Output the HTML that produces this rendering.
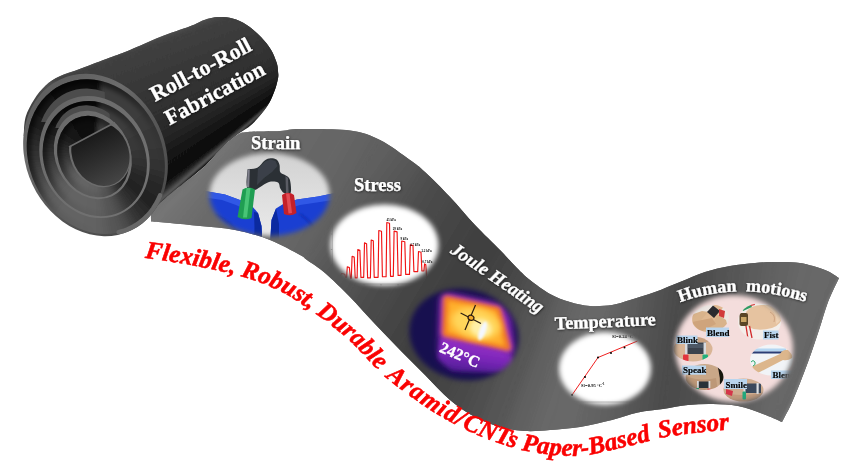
<!DOCTYPE html>
<html><head><meta charset="utf-8">
<style>
html,body{margin:0;padding:0;background:#fff;}
body{width:850px;height:472px;overflow:hidden;position:relative;font-family:"Liberation Serif",serif;}
svg{position:absolute;left:0;top:0;display:block;}
text{font-family:"Liberation Serif",serif;}
</style></head><body>
<svg width="850" height="472" viewBox="0 0 850 472">
<defs>
<linearGradient id="ribG" gradientUnits="userSpaceOnUse" x1="150" y1="0" x2="850" y2="0">
<stop offset="0" stop-color="#747474"/>
<stop offset="0.08" stop-color="#6e6e6e"/>
<stop offset="0.14" stop-color="#6a6a6a"/>
<stop offset="0.28" stop-color="#676767"/>
<stop offset="0.36" stop-color="#585858"/>
<stop offset="0.43" stop-color="#434343"/>
<stop offset="0.49" stop-color="#414141"/>
<stop offset="0.55" stop-color="#4c4c4c"/>
<stop offset="0.61" stop-color="#5c5c5c"/>
<stop offset="0.68" stop-color="#606060"/>
<stop offset="0.74" stop-color="#4c4c4c"/>
<stop offset="0.8" stop-color="#525252"/>
<stop offset="0.9" stop-color="#5e5e5e"/>
<stop offset="1" stop-color="#525252"/>
</linearGradient>
<filter id="feather" x="-20%" y="-20%" width="140%" height="140%"><feGaussianBlur stdDeviation="2.6"/></filter>
<filter id="blur05"><feGaussianBlur stdDeviation="0.5"/></filter>
<filter id="blur1"><feGaussianBlur stdDeviation="1"/></filter>
<filter id="blur2" x="-20%" y="-20%" width="140%" height="140%"><feGaussianBlur stdDeviation="2"/></filter>
<filter id="blur4" x="-20%" y="-20%" width="140%" height="140%"><feGaussianBlur stdDeviation="4"/></filter>
<filter id="blur3" x="-20%" y="-20%" width="140%" height="140%"><feGaussianBlur stdDeviation="3"/></filter>
<filter id="blur6" x="-30%" y="-30%" width="160%" height="160%"><feGaussianBlur stdDeviation="6"/></filter>
<filter id="tsh" x="-10%" y="-30%" width="120%" height="160%"><feDropShadow dx="0.5" dy="0.7" stdDeviation="0.8" flood-color="#000" flood-opacity="0.7"/></filter>
<mask id="mStrain"><ellipse cx="269.5" cy="194.5" rx="60" ry="41.5" fill="#fff" filter="url(#feather)"/></mask>
<mask id="mStress"><ellipse cx="384.5" cy="245" rx="54" ry="40.5" fill="#fff" filter="url(#feather)"/></mask>
<mask id="mJoule"><ellipse cx="464" cy="334.5" rx="55" ry="45.5" fill="#fff" transform="rotate(12 464 334.5)" filter="url(#feather)"/></mask>
<mask id="mTemp"><ellipse cx="605" cy="368.5" rx="46" ry="36.5" fill="#fff" filter="url(#feather)"/></mask>
<mask id="mHuman"><ellipse cx="734" cy="348.5" rx="59" ry="53.5" fill="#fff" filter="url(#feather)"/></mask>
<linearGradient id="bodyG" gradientUnits="userSpaceOnUse" x1="140" y1="40" x2="200" y2="170">
<stop offset="0" stop-color="#525252"/>
<stop offset="0.07" stop-color="#464646"/>
<stop offset="0.2" stop-color="#3a3a3a"/>
<stop offset="0.42" stop-color="#2e2e2e"/>
<stop offset="0.62" stop-color="#1e1e1e"/>
<stop offset="0.8" stop-color="#0e0e0e"/>
<stop offset="1" stop-color="#080808"/>
</linearGradient>
<linearGradient id="gapG" gradientUnits="userSpaceOnUse" x1="40" y1="90" x2="140" y2="210">
<stop offset="0.1" stop-color="#1c1c1c"/>
<stop offset="0.2" stop-color="#2e2e2e"/>
<stop offset="0.45" stop-color="#3a3a3a"/>
<stop offset="0.7" stop-color="#4c4c4c"/>
<stop offset="0.82" stop-color="#404040"/>
<stop offset="1" stop-color="#5a5a5a"/>
</linearGradient>
<linearGradient id="edgeG" gradientUnits="userSpaceOnUse" x1="40" y1="90" x2="140" y2="210">
<stop offset="0" stop-color="#5e5e5e"/>
<stop offset="0.3" stop-color="#6c6c6c"/>
<stop offset="1" stop-color="#727272"/>
</linearGradient>
<linearGradient id="edgeG1" gradientUnits="userSpaceOnUse" x1="40" y1="90" x2="140" y2="210">
<stop offset="0" stop-color="#5e5e5e"/>
<stop offset="0.3" stop-color="#6c6c6c"/>
<stop offset="0.6" stop-color="#585858"/>
<stop offset="1" stop-color="#4c4c4c"/>
</linearGradient>
<linearGradient id="purpG" gradientUnits="userSpaceOnUse" x1="470" y1="340" x2="465" y2="374">
<stop offset="0" stop-color="#9a30c8"/>
<stop offset="0.5" stop-color="#7a26b8"/>
<stop offset="1" stop-color="#4a1c90"/>
</linearGradient>
<linearGradient id="lightG" gradientUnits="userSpaceOnUse" x1="100" y1="80" x2="160" y2="180">
<stop offset="0" stop-color="#444"/>
<stop offset="0.6" stop-color="#363636"/>
<stop offset="1" stop-color="#3a3a3a"/>
</linearGradient>
<linearGradient id="dG" gradientUnits="userSpaceOnUse" x1="85" y1="130" x2="115" y2="190">
<stop offset="0" stop-color="#141414"/>
<stop offset="0.5" stop-color="#2e2e2e"/>
<stop offset="1" stop-color="#4a4a4a"/>
</linearGradient>
<clipPath id="tong0"><polygon points="106,72 200,60 200,170 95,155 82,96"/></clipPath>
<clipPath id="tong1"><polygon points="106,92 200,80 200,170 95,155 86,110"/></clipPath>
<clipPath id="band1"><polygon points="20,40 103,40 105,100 95,150 48,122 20,122"/></clipPath>
<clipPath id="band2"><polygon points="20,40 104,40 110,120 95,150 62,128 20,128"/></clipPath>
<clipPath id="gapc0"><path d="M156.16,128.45 A66.6 79.5 -25 1 0 35.44,184.75 A66.6 79.5 -25 1 0 156.16,128.45 Z"/></clipPath>
<clipPath id="gapc1"><path d="M140.57,137.26 A50.5 59.1 -25 1 0 49.03,179.94 A50.5 59.1 -25 1 0 140.57,137.26 Z"/></clipPath>
<clipPath id="gapc2"><path d="M124.37,142.02 A34.5 42 -25 1 0 61.83,171.18 A34.5 42 -25 1 0 124.37,142.02 Z"/></clipPath>
<g id="pie" filter="url(#blur2)">
<path d="M95.5,155L195.5,154L195,164.8Z" fill="#353535"/>
<path d="M95.5,155L195.2,162.7L193.8,173.4Z" fill="#323232"/>
<path d="M95.5,155L194.2,171.3L191.8,181.9Z" fill="#303030"/>
<path d="M95.5,155L192.4,179.9L189.1,190.2Z" fill="#2d2d2d"/>
<path d="M95.5,155L189.8,188.2L185.7,198.2Z" fill="#2b2b2b"/>
<path d="M95.5,155L186.6,196.3L181.6,205.9Z" fill="#282828"/>
<path d="M95.5,155L182.6,204.1L176.8,213.2Z" fill="#262626"/>
<path d="M95.5,155L178,211.5L171.4,220.1Z" fill="#232323"/>
<path d="M95.5,155L172.8,218.5L165.5,226.4Z" fill="#242424"/>
<path d="M95.5,155L166.9,225L159,232.3Z" fill="#292929"/>
<path d="M95.5,155L160.6,230.9L152,237.5Z" fill="#2e2e2e"/>
<path d="M95.5,155L153.7,236.3L144.6,242.1Z" fill="#353535"/>
<path d="M95.5,155L146.4,241.1L136.8,246.1Z" fill="#404040"/>
<path d="M95.5,155L138.7,245.2L128.7,249.3Z" fill="#4b4b4b"/>
<path d="M95.5,155L130.7,248.6L120.4,251.9Z" fill="#525252"/>
<path d="M95.5,155L122.4,251.3L111.8,253.7Z" fill="#575757"/>
<path d="M95.5,155L113.9,253.3L103.2,254.7Z" fill="#5b5b5b"/>
<path d="M95.5,155L105.3,254.5L94.5,255Z" fill="#606060"/>
<path d="M95.5,155L96.5,255L85.7,254.5Z" fill="#626262"/>
<path d="M95.5,155L87.8,254.7L77.1,253.3Z" fill="#626262"/>
<path d="M95.5,155L79.2,253.7L68.6,251.3Z" fill="#636363"/>
<path d="M95.5,155L70.6,251.9L60.3,248.6Z" fill="#636363"/>
<path d="M95.5,155L62.3,249.3L52.3,245.2Z" fill="#646464"/>
<path d="M95.5,155L54.2,246.1L44.6,241.1Z" fill="#646464"/>
<path d="M95.5,155L46.4,242.1L37.3,236.3Z" fill="#636363"/>
<path d="M95.5,155L39,237.5L30.4,230.9Z" fill="#616161"/>
<path d="M95.5,155L32,232.3L24.1,225Z" fill="#5f5f5f"/>
<path d="M95.5,155L25.5,226.4L18.2,218.5Z" fill="#5d5d5d"/>
<path d="M95.5,155L19.6,220.1L13,211.5Z" fill="#5a5a5a"/>
<path d="M95.5,155L14.2,213.2L8.4,204.1Z" fill="#545454"/>
<path d="M95.5,155L9.4,205.9L4.4,196.3Z" fill="#505050"/>
<path d="M95.5,155L5.3,198.2L1.2,188.2Z" fill="#4a4a4a"/>
<path d="M95.5,155L1.9,190.2L-1.4,179.9Z" fill="#454545"/>
<path d="M95.5,155L-0.8,181.9L-3.2,171.3Z" fill="#404040"/>
<path d="M95.5,155L-2.8,173.4L-4.2,162.7Z" fill="#3a3a3a"/>
<path d="M95.5,155L-4,164.8L-4.5,154Z" fill="#353535"/>
<path d="M95.5,155L-4.5,156L-4,145.2Z" fill="#303030"/>
<path d="M95.5,155L-4.2,147.3L-2.8,136.6Z" fill="#2d2d2d"/>
<path d="M95.5,155L-3.2,138.7L-0.8,128.1Z" fill="#292929"/>
<path d="M95.5,155L-1.4,130.1L1.9,119.8Z" fill="#262626"/>
<path d="M95.5,155L1.2,121.8L5.3,111.8Z" fill="#222222"/>
<path d="M95.5,155L4.4,113.7L9.4,104.1Z" fill="#1f1f1f"/>
<path d="M95.5,155L8.4,105.9L14.2,96.8Z" fill="#1c1c1c"/>
<path d="M95.5,155L13,98.5L19.6,89.9Z" fill="#191919"/>
<path d="M95.5,155L18.2,91.5L25.5,83.6Z" fill="#161616"/>
<path d="M95.5,155L24.1,85L32,77.7Z" fill="#131313"/>
<path d="M95.5,155L30.4,79.1L39,72.5Z" fill="#121212"/>
<path d="M95.5,155L37.3,73.7L46.4,67.9Z" fill="#111111"/>
<path d="M95.5,155L44.6,68.9L54.2,63.9Z" fill="#101010"/>
<path d="M95.5,155L52.3,64.8L62.3,60.7Z" fill="#0f0f0f"/>
<path d="M95.5,155L60.3,61.4L70.6,58.1Z" fill="#0e0e0e"/>
<path d="M95.5,155L68.6,58.7L79.2,56.3Z" fill="#0d0d0d"/>
<path d="M95.5,155L77.1,56.7L87.8,55.3Z" fill="#0d0d0d"/>
<path d="M95.5,155L85.7,55.5L96.5,55Z" fill="#0c0c0c"/>
<path d="M95.5,155L94.5,55L105.3,55.5Z" fill="#0c0c0c"/>
<path d="M95.5,155L103.2,55.3L113.9,56.7Z" fill="#3c3c3c"/>
<path d="M95.5,155L111.8,56.3L122.4,58.7Z" fill="#3c3c3c"/>
<path d="M95.5,155L120.4,58.1L130.7,61.4Z" fill="#3d3d3d"/>
<path d="M95.5,155L128.7,60.7L138.7,64.8Z" fill="#3d3d3d"/>
<path d="M95.5,155L136.8,63.9L146.4,68.9Z" fill="#3e3e3e"/>
<path d="M95.5,155L144.6,67.9L153.7,73.7Z" fill="#3e3e3e"/>
<path d="M95.5,155L152,72.5L160.6,79.1Z" fill="#3d3d3d"/>
<path d="M95.5,155L159,77.7L166.9,85Z" fill="#3c3c3c"/>
<path d="M95.5,155L165.5,83.6L172.8,91.5Z" fill="#3c3c3c"/>
<path d="M95.5,155L171.4,89.9L178,98.5Z" fill="#3b3b3b"/>
<path d="M95.5,155L176.8,96.8L182.6,105.9Z" fill="#3a3a3a"/>
<path d="M95.5,155L181.6,104.1L186.6,113.7Z" fill="#3a3a3a"/>
<path d="M95.5,155L185.7,111.8L189.8,121.8Z" fill="#393939"/>
<path d="M95.5,155L189.1,119.8L192.4,130.1Z" fill="#383838"/>
<path d="M95.5,155L191.8,128.1L194.2,138.7Z" fill="#383838"/>
<path d="M95.5,155L193.8,136.6L195.2,147.3Z" fill="#373737"/>
<path d="M95.5,155L195,145.2L195.5,156Z" fill="#363636"/>
</g>
<linearGradient id="shadowG" gradientUnits="userSpaceOnUse" x1="45" y1="95" x2="135" y2="200">
<stop offset="0.1" stop-color="#000" stop-opacity="0.6"/>
<stop offset="0.4" stop-color="#000" stop-opacity="0.4"/>
<stop offset="0.7" stop-color="#000" stop-opacity="0.08"/>
<stop offset="1" stop-color="#000" stop-opacity="0"/>
</linearGradient>
<clipPath id="dclip"><polygon points="69,147 115,122.5 200,122 200,260 69,260"/></clipPath>
<radialGradient id="thermG" cx="0.5" cy="0.5" r="0.5">
<stop offset="0" stop-color="#fff2a0"/>
<stop offset="0.35" stop-color="#ffc020"/>
<stop offset="0.6" stop-color="#f08a20"/>
<stop offset="0.8" stop-color="#c040c0"/>
<stop offset="1" stop-color="#7020b0"/>
</radialGradient>
<clipPath id="bodyClip"><path d="M23.7,136 C24,132.8 23.9,123 25.6,117 C27.3,111 30.7,105 34,99.7 C37.3,94.5 41.2,89.4 45.5,85.5 C49.8,81.6 53.8,79.1 59.7,76.3 C65.6,73.5 72.7,71.6 81,68.5 C89.3,65.4 101.2,60.9 109.4,57.8 C117.6,54.7 121.6,53.5 130,50 C138.4,46.5 150,41 160,37 C170,33 182.6,29.2 190,26.3 C197.4,23.4 199.5,21.4 204.2,19.9 C208.9,18.3 213.7,17.2 218.4,17 C223.1,16.8 227.9,17.2 232.6,18.5 C237.3,19.8 242.1,21.8 246.8,24.9 C251.5,28 257,32.8 261,36.9 C265,41 268.4,45.4 271,49.7 C273.6,54 275.4,59 276.6,62.5 C277.8,66 277.8,68.3 278,71 C278.2,73.7 278.7,74.8 278,78.4 C277.3,82 275.8,87.9 273.9,92.6 C272,97.3 270.4,101.6 266.8,106.8 C263.2,112 257.3,119.3 252.3,124 C247.3,128.7 241.7,131 236.7,134.8 C231.7,138.6 228.2,141.4 222.5,146.9 C216.8,152.4 211.4,160.1 202.6,168 C193.8,175.9 177.9,187.6 169.6,194.5 C161.3,201.4 155.8,206.9 153,209.4 L95,155 Z"/></clipPath>
<linearGradient id="strBg" x1="0" y1="0" x2="0" y2="1"><stop offset="0" stop-color="#cfcfcf"/><stop offset="0.5" stop-color="#dedede"/><stop offset="1" stop-color="#ececec"/></linearGradient>
<clipPath id="cpFinger"><ellipse cx="710.5" cy="318.5" rx="18.5" ry="13.5" transform="rotate(-8 710.5 318.5)"/></clipPath>
<clipPath id="cpFist"><ellipse cx="759.5" cy="321.5" rx="21.5" ry="18"/></clipPath>
<clipPath id="cpBlink"><ellipse cx="693" cy="349" rx="19.5" ry="12.5"/></clipPath>
<clipPath id="cpArm"><ellipse cx="771.5" cy="360" rx="21.5" ry="15.5"/></clipPath>
<clipPath id="cpSpeak"><ellipse cx="704.5" cy="377" rx="19" ry="13"/></clipPath>
<clipPath id="cpSmile"><ellipse cx="743.5" cy="390" rx="20" ry="11.5"/></clipPath>
<clipPath id="ribClip"><path d="M151,221.5 C151.3,219.4 149.8,213.6 153,209 C156.2,204.4 161.7,200.8 170,194 C178.3,187.2 194.2,175.8 203,168 C211.8,160.2 216.8,152.5 222.5,147 C228.2,141.5 232.8,137.5 237,135 C241.2,132.5 240.8,132.7 248,132 C255.2,131.3 271.3,131.5 280,131 C288.7,130.5 288.3,129.1 300,129 C311.7,128.9 336.7,128.7 350,130.5 C363.3,132.3 370,135.1 380,140 C390,144.9 402.5,154.7 410,160 C417.5,165.3 418.3,165.8 425,172 C431.7,178.2 441.7,188.2 450,197 C458.3,205.8 466.7,216.2 475,225 C483.3,233.8 493,242.8 500,250 C507,257.2 512,263 517,268 C522,273 524.5,275.7 530,280 C535.5,284.3 543.3,290.3 550,294 C556.7,297.7 563.3,300 570,302 C576.7,304 583,305.5 590,306 C597,306.5 605.3,306 612,305 C618.7,304 622.8,302.2 630,300 C637.2,297.8 646.7,295 655,292 C663.3,289 671.7,285.3 680,282 C688.3,278.7 696.7,274.7 705,272 C713.3,269.3 721.7,267.5 730,266 C738.3,264.5 747.5,263.7 755,263 C762.5,262.3 767.5,262 775,262 C782.5,262 791.7,261.7 800,263 C808.3,264.3 818.5,267.5 825,270 C831.5,272.5 836.7,276.7 839,278 C837.2,282 831.3,293.3 828,302 C824.7,310.7 822.3,320 819,330 C815.7,340 812.3,350.3 808,362 C803.7,373.7 797.3,390 793,400 C788.7,410 783.8,418.3 782,422 C778.8,420.7 770.3,416.7 763,414 C755.7,411.3 746.3,407.7 738,406 C729.7,404.3 721.3,404.2 713,404 C704.7,403.8 696.3,404.2 688,405 C679.7,405.8 671.3,407.8 663,409 C654.7,410.2 646.5,410.7 638,412.5 C629.5,414.3 621.7,417.6 612,420 C602.3,422.4 590.3,425.3 580,427 C569.7,428.7 559.2,429.3 550,430 C540.8,430.7 533.3,431.5 525,431 C516.7,430.5 508.3,429.3 500,427 C491.7,424.7 483.3,421.5 475,417 C466.7,412.5 458.3,407 450,400 C441.7,393 433.3,383.3 425,375 C416.7,366.7 408.3,358.5 400,350 C391.7,341.5 383.3,332.8 375,324 C366.7,315.2 358.3,305.5 350,297 C341.7,288.5 332.2,279.2 325,273 C317.8,266.8 311.2,263 307,260 C302.8,257 306.2,258.3 300,255 C293.8,251.7 280.8,244.2 270,240 C259.2,235.8 246.7,232.3 235,230 C223.3,227.7 210.8,227.2 200,226 C189.2,224.8 178.2,223.8 170,223 C161.8,222.2 154.2,221.8 151,221.5 Z"/></clipPath>
</defs>

<!-- ribbon -->
<path d="M151,221.5 C151.3,219.4 149.8,213.6 153,209 C156.2,204.4 161.7,200.8 170,194 C178.3,187.2 194.2,175.8 203,168 C211.8,160.2 216.8,152.5 222.5,147 C228.2,141.5 232.8,137.5 237,135 C241.2,132.5 240.8,132.7 248,132 C255.2,131.3 271.3,131.5 280,131 C288.7,130.5 288.3,129.1 300,129 C311.7,128.9 336.7,128.7 350,130.5 C363.3,132.3 370,135.1 380,140 C390,144.9 402.5,154.7 410,160 C417.5,165.3 418.3,165.8 425,172 C431.7,178.2 441.7,188.2 450,197 C458.3,205.8 466.7,216.2 475,225 C483.3,233.8 493,242.8 500,250 C507,257.2 512,263 517,268 C522,273 524.5,275.7 530,280 C535.5,284.3 543.3,290.3 550,294 C556.7,297.7 563.3,300 570,302 C576.7,304 583,305.5 590,306 C597,306.5 605.3,306 612,305 C618.7,304 622.8,302.2 630,300 C637.2,297.8 646.7,295 655,292 C663.3,289 671.7,285.3 680,282 C688.3,278.7 696.7,274.7 705,272 C713.3,269.3 721.7,267.5 730,266 C738.3,264.5 747.5,263.7 755,263 C762.5,262.3 767.5,262 775,262 C782.5,262 791.7,261.7 800,263 C808.3,264.3 818.5,267.5 825,270 C831.5,272.5 836.7,276.7 839,278 C837.2,282 831.3,293.3 828,302 C824.7,310.7 822.3,320 819,330 C815.7,340 812.3,350.3 808,362 C803.7,373.7 797.3,390 793,400 C788.7,410 783.8,418.3 782,422 C778.8,420.7 770.3,416.7 763,414 C755.7,411.3 746.3,407.7 738,406 C729.7,404.3 721.3,404.2 713,404 C704.7,403.8 696.3,404.2 688,405 C679.7,405.8 671.3,407.8 663,409 C654.7,410.2 646.5,410.7 638,412.5 C629.5,414.3 621.7,417.6 612,420 C602.3,422.4 590.3,425.3 580,427 C569.7,428.7 559.2,429.3 550,430 C540.8,430.7 533.3,431.5 525,431 C516.7,430.5 508.3,429.3 500,427 C491.7,424.7 483.3,421.5 475,417 C466.7,412.5 458.3,407 450,400 C441.7,393 433.3,383.3 425,375 C416.7,366.7 408.3,358.5 400,350 C391.7,341.5 383.3,332.8 375,324 C366.7,315.2 358.3,305.5 350,297 C341.7,288.5 332.2,279.2 325,273 C317.8,266.8 311.2,263 307,260 C302.8,257 306.2,258.3 300,255 C293.8,251.7 280.8,244.2 270,240 C259.2,235.8 246.7,232.3 235,230 C223.3,227.7 210.8,227.2 200,226 C189.2,224.8 178.2,223.8 170,223 C161.8,222.2 154.2,221.8 151,221.5 Z" fill="url(#ribG)"/>
<g clip-path="url(#ribClip)"><g filter="url(#blur2)">
<path d="M204.1,165.6L208.8,160.7L136.7,238.3L135.9,239.4Z" fill="#7c7c7c"/>
<path d="M207.3,162.3L213.7,155.7L137.4,237.1L136.5,238.6Z" fill="#7b7b7b"/>
<path d="M211.9,157.5L219,150.3L138.1,235.8L137.1,237.5Z" fill="#7b7b7b"/>
<path d="M217.1,152.1L223.9,145.3L139,234.3L137.9,236.3Z" fill="#7b7b7b"/>
<path d="M222.3,146.9L227.9,141.5L139.9,232.8L138.7,234.8Z" fill="#7a7a7a"/>
<path d="M226.7,142.7L231.3,138.4L141,231.2L139.6,233.3Z" fill="#7a7a7a"/>
<path d="M230.1,139.4L234.2,135.8L142.1,229.8L140.6,231.8Z" fill="#797979"/>
<path d="M233.2,136.7L237,133.6L143.2,228.4L141.7,230.3Z" fill="#797979"/>
<path d="M236,134.4L239.6,131.8L144.5,227.2L142.8,228.9Z" fill="#797979"/>
<path d="M238.7,132.4L241.2,130.8L145.3,226.5L144,227.6Z" fill="#787878"/>
<path d="M241.2,130.8L243.5,129.4L149.4,225.2L145.3,226.5Z" fill="#777777"/>
<path d="M243,129.7L244.7,128.7L152.8,225.2L148.3,225.3Z" fill="#767676"/>
<path d="M244.3,128.9L246,128.3L156.6,225.9L151.6,225.1Z" fill="#757575"/>
<path d="M245.5,128.4L247.5,127.9L160.8,226.8L155.2,225.6Z" fill="#737373"/>
<path d="M246.9,128L249.8,127.6L165.4,227.5L159.2,226.4Z" fill="#727272"/>
<path d="M248.9,127.7L253.2,127.3L170.6,228.1L163.7,227.3Z" fill="#717171"/>
<path d="M251.8,127.4L257.8,127L176.3,228.6L168.7,227.9Z" fill="#6f6f6f"/>
<path d="M256.1,127.1L263.3,126.8L182.5,229.3L174.3,228.4Z" fill="#6e6e6e"/>
<path d="M261.3,126.9L267.1,126.7L186.6,229.7L180.3,229Z" fill="#6d6d6d"/>
<path d="M267.1,126.7L277.4,126.5L194.7,230.5L186.6,229.7Z" fill="#6c6c6c"/>
<path d="M274.8,126.6L283.8,126.3L200.8,231.1L192.6,230.3Z" fill="#6b6b6b"/>
<path d="M281.7,126.4L288.2,125.8L207.3,231.8L198.6,230.9Z" fill="#6a6a6a"/>
<path d="M286.9,126L291.4,125.2L214,232.5L205,231.6Z" fill="#6a6a6a"/>
<path d="M290.3,125.4L294.6,124.5L220.7,233.3L211.6,232.2Z" fill="#696969"/>
<path d="M293.4,124.7L299.1,124.1L227.5,234.3L218.4,233Z" fill="#686868"/>
<path d="M297.3,124.2L303.2,124L231.8,235L225.1,233.9Z" fill="#676767"/>
<path d="M303.2,124L312.8,123.9L242.2,237.4L231.8,235Z" fill="#676767"/>
<path d="M310.1,123.9L321.5,123.9L250,239.5L239.5,236.8Z" fill="#676767"/>
<path d="M318.4,123.8L330.8,124L257.6,241.8L247.3,238.8Z" fill="#676767"/>
<path d="M327.5,123.9L340,124.3L264.9,244.4L255,241Z" fill="#666666"/>
<path d="M336.9,124.2L348.4,124.9L272.1,247.3L262.4,243.5Z" fill="#666666"/>
<path d="M345.6,124.7L353.1,125.4L277,249.6L269.6,246.2Z" fill="#666666"/>
<path d="M353.1,125.4L359.2,126.3L286.5,254.5L277,249.6Z" fill="#666666"/>
<path d="M357.7,126L363.1,127.1L292.7,257.8L284.1,253.2Z" fill="#656565"/>
<path d="M361.8,126.8L366.8,128.1L297.4,260.4L290.6,256.7Z" fill="#646464"/>
<path d="M365.5,127.7L370.2,129.2L300.1,261.9L295.9,259.6Z" fill="#636363"/>
<path d="M369,128.8L373.7,130.5L301.2,262.7L299.3,261.5Z" fill="#636363"/>
<path d="M372.5,130L377.1,132L301.7,263.3L300.9,262.5Z" fill="#626262"/>
<path d="M375.9,131.5L380.7,133.7L302.6,264.2L301.5,263.1Z" fill="#616161"/>
<path d="M379.5,133.1L383.1,134.9L303.9,265.1L302.2,263.8Z" fill="#606060"/>
<path d="M383.1,134.9L391.8,139.9L307.6,267.7L303.9,265.1Z" fill="#5f5f5f"/>
<path d="M389.5,138.4L398.4,144.3L310.9,269.9L306.5,267Z" fill="#5e5e5e"/>
<path d="M396.1,142.7L404.7,148.8L314.6,272.5L309.7,269Z" fill="#5c5c5c"/>
<path d="M402.6,147.2L410.4,152.9L318.6,275.5L313.3,271.5Z" fill="#5a5a5a"/>
<path d="M408.5,151.5L415,156.2L323,279.2L317.2,274.4Z" fill="#595959"/>
<path d="M413.6,155.2L418.4,158.6L327.7,283.5L321.4,277.8Z" fill="#575757"/>
<path d="M417.4,157.9L420.8,160.5L332.9,288.3L326,281.9Z" fill="#565656"/>
<path d="M420,159.8L423.1,162.3L338.2,293.5L331,286.6Z" fill="#545454"/>
<path d="M422.3,161.6L425.8,164.8L343.6,298.8L336.4,291.7Z" fill="#525252"/>
<path d="M424.8,163.8L428.1,166.9L346.9,302.1L341.7,296.9Z" fill="#515151"/>
<path d="M428.1,166.9L434.1,172.6L353.7,309.3L346.9,302.1Z" fill="#4f4f4f"/>
<path d="M432.4,171L439.1,177.5L358.7,314.7L352,307.4Z" fill="#4d4d4d"/>
<path d="M437.3,175.7L444.4,182.9L363.7,320.2L357,312.8Z" fill="#4c4c4c"/>
<path d="M442.6,181L449.7,188.3L368.7,325.7L362,318.3Z" fill="#4a4a4a"/>
<path d="M447.9,186.4L453.1,191.8L371.9,329.2L367,323.8Z" fill="#484848"/>
<path d="M453.1,191.8L459.8,199.3L378.7,336.3L371.9,329.2Z" fill="#464646"/>
<path d="M458.1,197.3L464.8,205L383.7,341.5L376.9,334.4Z" fill="#454545"/>
<path d="M463.1,203L469.8,210.7L388.7,346.7L381.9,339.7Z" fill="#444444"/>
<path d="M468.1,208.7L474.8,216.3L393.7,351.8L386.9,344.9Z" fill="#434343"/>
<path d="M473.1,214.4L478.1,219.9L396.9,355.1L391.9,350Z" fill="#424242"/>
<path d="M478.1,219.9L485.1,227L403.7,362L396.9,355.1Z" fill="#414141"/>
<path d="M483.2,225.2L490.3,232.2L408.6,366.9L401.9,360.2Z" fill="#414141"/>
<path d="M488.5,230.4L495.4,237.2L413.6,371.9L406.9,365.2Z" fill="#414141"/>
<path d="M493.7,235.5L500.2,242L418.6,376.9L411.9,370.2Z" fill="#414141"/>
<path d="M498.6,240.4L503.1,244.9L421.9,380.1L416.9,375.1Z" fill="#414141"/>
<path d="M503.1,244.9L508.3,250.3L428.7,387.2L421.9,380.1Z" fill="#424242"/>
<path d="M507,249L511.7,254L433.8,392.4L427,385.3Z" fill="#434343"/>
<path d="M510.5,252.8L514.8,257.5L438.9,397.6L432,390.6Z" fill="#444444"/>
<path d="M513.8,256.3L517.8,260.7L444,402.5L437.1,395.8Z" fill="#454545"/>
<path d="M516.8,259.6L519.7,262.6L447.3,405.4L442.2,400.8Z" fill="#464646"/>
<path d="M519.7,262.6L523.2,266.2L454.2,410.8L447.3,405.4Z" fill="#484848"/>
<path d="M522.4,265.4L525.4,268.5L459.3,414.4L452.4,409.4Z" fill="#4a4a4a"/>
<path d="M524.7,267.7L527.7,270.6L464.4,417.7L457.5,413.2Z" fill="#4b4b4b"/>
<path d="M526.9,269.8L530.3,272.8L469.5,420.7L462.6,416.6Z" fill="#4d4d4d"/>
<path d="M529.3,272L533.4,275.4L474.5,423.5L467.7,419.7Z" fill="#4f4f4f"/>
<path d="M532.2,274.4L537.1,278.2L479.6,425.9L472.8,422.6Z" fill="#505050"/>
<path d="M535.7,277.2L541.1,281.2L484.6,428.1L477.8,425.1Z" fill="#525252"/>
<path d="M539.7,280.1L545.3,284.1L489.6,430L482.8,427.4Z" fill="#545454"/>
<path d="M543.8,283.1L549.5,286.8L494.6,431.7L487.9,429.4Z" fill="#555555"/>
<path d="M548,285.9L552.1,288.4L497.9,432.6L492.9,431.1Z" fill="#575757"/>
<path d="M552.1,288.4L557.5,291.1L504.7,434.3L497.9,432.6Z" fill="#595959"/>
<path d="M556.1,290.4L561.4,292.7L509.7,435.2L502.9,433.9Z" fill="#5b5b5b"/>
<path d="M560.1,292.2L565.4,294.2L514.7,435.9L507.9,434.9Z" fill="#5e5e5e"/>
<path d="M564,293.7L569.4,295.5L519.8,436.4L513,435.7Z" fill="#606060"/>
<path d="M568,295.1L572,296.3L523,436.7L518,436.3Z" fill="#626262"/>
<path d="M572,296.3L577.3,297.8L529.7,436.8L523,436.7Z" fill="#646464"/>
<path d="M575.9,297.5L581.2,298.7L534.5,436.7L528,436.8Z" fill="#656565"/>
<path d="M579.8,298.4L585.2,299.5L539.5,436.3L532.8,436.7Z" fill="#666666"/>
<path d="M583.8,299.3L589.2,300L544.6,436L537.7,436.5Z" fill="#676767"/>
<path d="M587.8,299.9L591.8,300.3L548.2,435.7L542.8,436.1Z" fill="#686868"/>
<path d="M591.8,300.3L597.7,300.5L555.9,435.2L548.2,435.7Z" fill="#696969"/>
<path d="M596.1,300.5L602.2,300.3L561.9,434.7L553.9,435.3Z" fill="#686868"/>
<path d="M600.6,300.4L606.6,300L568.1,434.1L559.8,434.9Z" fill="#686868"/>
<path d="M605.1,300.2L610.9,299.6L574.4,433.4L565.9,434.3Z" fill="#676767"/>
<path d="M609.4,299.8L613.5,299.2L578.5,432.8L572.2,433.7Z" fill="#666666"/>
<path d="M613.5,299.2L618.3,298.2L587.3,431.2L578.5,432.8Z" fill="#656565"/>
<path d="M617.2,298.5L621.5,297.2L594,429.9L585,431.7Z" fill="#646464"/>
<path d="M620.4,297.6L624.8,296.1L600.7,428.4L591.7,430.4Z" fill="#626262"/>
<path d="M623.6,296.5L628.3,294.9L607.2,426.9L598.4,428.9Z" fill="#606060"/>
<path d="M627,295.3L630.9,294.1L611.1,425.9L605,427.4Z" fill="#5f5f5f"/>
<path d="M630.9,294.1L637.1,292.2L618.6,423.8L611.1,425.9Z" fill="#5d5d5d"/>
<path d="M635.4,292.7L642.1,290.6L623.8,422.2L616.8,424.4Z" fill="#5b5b5b"/>
<path d="M640.3,291.2L647.3,289L628.9,420.6L622.1,422.8Z" fill="#585858"/>
<path d="M645.5,289.5L652.5,287.2L633.9,419.2L627.1,421.2Z" fill="#565656"/>
<path d="M650.7,287.8L655.8,286.1L637.2,418.4L632.1,419.7Z" fill="#545454"/>
<path d="M655.8,286.1L662.6,283.5L644,417.2L637.2,418.4Z" fill="#525252"/>
<path d="M660.8,284.2L667.6,281.5L649,416.6L642.2,417.5Z" fill="#515151"/>
<path d="M665.8,282.2L672.6,279.4L654,416L647.3,416.8Z" fill="#4f4f4f"/>
<path d="M670.8,280.2L677.6,277.4L659,415.4L652.2,416.2Z" fill="#4d4d4d"/>
<path d="M675.8,278.1L680.8,276.1L662.2,414.9L657.2,415.6Z" fill="#4c4c4c"/>
<path d="M680.8,276.1L687.5,273.2L669,413.8L662.2,414.9Z" fill="#4b4b4b"/>
<path d="M685.8,274L692.5,271.1L674,412.9L667.2,414.1Z" fill="#4c4c4c"/>
<path d="M690.8,271.9L697.5,269.1L679,412.1L672.2,413.2Z" fill="#4c4c4c"/>
<path d="M695.8,269.8L702.5,267.2L684,411.3L677.2,412.4Z" fill="#4d4d4d"/>
<path d="M700.8,267.8L705.8,266L687.2,411L682.2,411.6Z" fill="#4e4e4e"/>
<path d="M705.8,266L712.5,264.1L694,410.4L687.2,411Z" fill="#4f4f4f"/>
<path d="M710.8,264.5L717.5,262.8L699,410.1L692.2,410.5Z" fill="#505050"/>
<path d="M715.7,263.2L722.5,261.7L704,410L697.3,410.2Z" fill="#525252"/>
<path d="M720.7,262L727.5,260.7L709,409.9L702.3,410Z" fill="#535353"/>
<path d="M725.7,261L730.7,260L712.3,410L707.3,409.9Z" fill="#545454"/>
<path d="M730.7,260L737.7,259L717.3,410.1L712.3,410Z" fill="#565656"/>
<path d="M735.9,259.2L742.9,258.3L721,410.2L716,410Z" fill="#575757"/>
<path d="M741.1,258.5L748,257.8L724.7,410.4L719.7,410.1Z" fill="#585858"/>
<path d="M746.3,258L752.9,257.3L728.4,410.7L723.4,410.3Z" fill="#5a5a5a"/>
<path d="M751.3,257.5L757.5,256.9L732.1,411.1L727.1,410.6Z" fill="#5b5b5b"/>
<path d="M756,257.1L761.6,256.6L735.8,411.7L730.8,410.9Z" fill="#5c5c5c"/>
<path d="M760.2,256.7L765.4,256.4L739.6,412.5L734.5,411.5Z" fill="#5d5d5d"/>
<path d="M764.1,256.4L769.2,256.2L743.5,413.5L738.3,412.2Z" fill="#5f5f5f"/>
<path d="M767.9,256.2L773.2,256.1L747.4,414.7L742.1,413.1Z" fill="#606060"/>
<path d="M771.7,256.1L776,256.1L749.9,415.5L746,414.3Z" fill="#616161"/>
<path d="M776,256.1L782.5,256.1L753.7,416.9L749.9,415.5Z" fill="#626262"/>
<path d="M780.7,256.1L787.6,256.1L756.5,417.9L752.8,416.6Z" fill="#636363"/>
<path d="M785.7,256.1L792.8,256.3L759.1,418.9L755.5,417.6Z" fill="#646464"/>
<path d="M790.9,256.2L798,256.7L761.6,419.8L758.2,418.6Z" fill="#656565"/>
<path d="M796.2,256.5L803.2,257.5L764,420.7L760.8,419.5Z" fill="#666666"/>
<path d="M801.4,257.2L808.6,258.6L766.3,421.6L763.2,420.4Z" fill="#676767"/>
<path d="M806.6,258.2L812.1,259.5L767.8,422.2L765.5,421.3Z" fill="#686868"/>
<path d="M812.1,259.5L819.3,261.7L769.9,423.1L767.8,422.2Z" fill="#686868"/>
<path d="M817.5,261.1L824.1,263.3L771.5,423.7L769.4,422.9Z" fill="#686868"/>
<path d="M822.5,262.7L828.2,264.8L773,424.4L770.9,423.5Z" fill="#676767"/>
<path d="M826.9,264.3L831.4,266.3L774.6,425.1L772.5,424.2Z" fill="#676767"/>
<path d="M830.4,265.8L834,267.8L776.1,425.8L774,424.9Z" fill="#676767"/>
<path d="M833.1,267.3L836.4,269.4L777.5,426.5L775.5,425.5Z" fill="#676767"/>
<path d="M835.5,268.8L839.1,271.2L778.9,427.1L777,426.2Z" fill="#666666"/>
<path d="M838.1,270.5L841.2,272.4L779.8,427.6L778.4,426.9Z" fill="#666666"/>
<path d="M841.2,272.4L847,275.7L784,429.9L779.8,427.6Z" fill="#666666"/>
<path d="M845.3,274.8L852,278.6L786.9,431.7L782.9,429.3Z" fill="#656565"/>
<path d="M850.2,277.6L856.8,281.3L789.5,433.4L785.9,431.1Z" fill="#646464"/>
<path d="M855.2,280.4L860.7,283.5L791.5,434.8L788.6,432.9Z" fill="#636363"/>
<path d="M859.5,282.8L862.5,284.6L792.5,435.4L790.9,434.4Z" fill="#626262"/>
</g>
<path d="M839,278 L828,302 L819,330 L808,362 L793,400 L782,422" stroke="#8c8c8c" stroke-width="3" fill="none" opacity="0.5" filter="url(#blur1)"/>
</g>
<g clip-path="url(#ribClip)">

</g>

<!-- STRAIN -->
<g clip-path="url(#ribClip)"><g mask="url(#mStrain)">
<rect x="200" y="145" width="140" height="100" fill="url(#strBg)"/>
<path d="M205,191 L225,194.5 L240,200 L252,206 L258,213 L261.5,226 L262.5,245 L200,245 Z" fill="#1a3fd2"/>
<path d="M205,191 L225,194.5 L240,200 L252,206 L249,211 L236,205 L222,200 L205,197.5 Z" fill="#3058e6"/>
<path d="M254,212 L258,213 L261.5,226 L262.5,245 L254,245 L254.5,228 Z" fill="#0b2aa0"/>
<path d="M215,215 Q232,222 240,238" stroke="#0f2fb4" stroke-width="2" fill="none" filter="url(#blur1)"/>
<path d="M340,192 L318,196.5 L297,199.5 L284,203.5 L276,208.5 L271.5,220 L270,245 L340,245 Z" fill="#1a3fd2"/>
<path d="M340,192 L318,196.5 L297,199.5 L284,203.5 L287,209 L300,205 L340,199 Z" fill="#3058e6"/>
<path d="M276,208.5 L271.5,220 L270,245 L279,245 L279,224 Z" fill="#0b2aa0"/>
<path d="M300,214 Q312,222 318,236" stroke="#0f2fb4" stroke-width="2" fill="none" filter="url(#blur1)"/>
<path d="M247.6,169.3 C249.2,169.1 254.5,169.3 257.3,167.8 C260.2,166.3 262.5,162 264.7,160.4 C266.9,158.8 268.6,158.3 270.6,158.2 C272.6,158.1 275,158.5 276.5,159.6 C278,160.7 278.9,162.7 279.5,164.8 C280.1,166.9 279.3,170.6 280.3,172.3 C281.3,174 283.8,174 285.4,175.2 C287,176.4 289,176.7 289.9,179.7 C290.8,182.7 291.6,190.8 290.6,193 C289.6,195.2 285.7,193.7 284,193 C282.3,192.3 281.3,190.3 280.3,188.6 C279.3,186.8 279.9,183.6 278,182.5 C276.1,181.4 272,181.2 269,182 C266,182.8 262.6,185.7 260.2,187 C257.8,188.3 256.5,190 254.3,190 C252.1,190 248,190.4 246.9,187 C245.8,183.6 247.5,172.2 247.6,169.3 Z" fill="#2b3035"/>
<path d="M258,168.5 L265,161.5 L270.5,159.5 L275.5,161 L277.5,166 L272,172 L264,178 L257,185 Z" fill="#3a4148" filter="url(#blur05)"/>
<path d="M247.6,169.5 L249.8,169.3 L249.2,187.5 L247,187 Z" fill="#80808c"/>
<path d="M285.5,176 L288,178 L288.6,193 L286,193 Z" fill="#5a5c64"/>
<path d="M242.5,189.5 Q248.7,185.5 255,189.5 L251.5,218 Q244.5,221 237.5,217 Z" fill="#1f9e52"/>
<path d="M246.5,188 L250.5,188 L247,217.5 L243,217.5 Z" fill="#48c476"/>
<path d="M282,195 Q288,190.5 294,195 L296.5,213 Q291,217 284,214 Z" fill="#c42029"/>
<path d="M286,193.5 L289.5,193.5 L292,213 L288.5,213.5 Z" fill="#e24c54"/>
</g></g>

<!-- STRESS -->
<g mask="url(#mStress)">
<rect x="320" y="195" width="130" height="100" fill="#fff"/>
<path d="M332.3,212 L332.3,284 L436,284 M332.3,234 h-1.5 M332.3,249.5 h-1.5 M332.3,265 h-1.5 M364,284 v1.5 M381,284 v1.5 M398,284 v1.5" fill="none" stroke="#888" stroke-width="0.5"/>
<path d="M339.9,275.4 L340.8,275.4 L341.6,273.5 L344.7,274.2 L345.6,277.3 L346.6,277.3 L347.3,266.8 L349.4,267.6 L350.4,278.2 L351.3,278.2 L352.1,256.3 L354.2,257.1 L355.2,277.9 L357.1,277.9 L357.8,249.6 L359.9,250.4 L360.9,277.3 L363.7,277.3 L364.5,242.9 L366.6,243.7 L367.6,277.9 L370.4,277.9 L371.2,240.1 L373.3,240.8 L374.2,277.3 L378.1,277.3 L378.8,230.5 L381.5,231.3 L382.4,276.7 L386.1,276.7 L386.8,222.5 L389.5,223.3 L390.5,276.3 L393.3,276.3 L394.1,231.1 L397.1,231.9 L398.1,275.4 L401,275.4 L401.7,241 L404.8,241.8 L405.7,274.4 L409.5,274.4 L410.3,244.8 L413,245.6 L413.9,271.6 L417.7,271.6 L418.5,251.5 L421,252.3 L421.9,271 L423.9,271 L424.6,263.9 L425.8,264.7 L426.7,278.2 L428.1,276.3" fill="none" stroke="#f01414" stroke-width="1.15" stroke-linejoin="round"/>
<g font-family="Liberation Sans" font-size="3.2" font-weight="bold" fill="#000">
<text x="386.5" y="221">45 kPa</text><text x="392.7" y="229.6">29 kPa</text><text x="400.4" y="240">9 kPa</text><text x="410" y="245.8">4.7 kPa</text><text x="421.4" y="252">2.2 kPa</text><text x="422.3" y="262.5">0.7 kPa</text>
</g>
</g>

<!-- JOULE -->
<g mask="url(#mJoule)">
<rect x="400" y="280" width="130" height="110" fill="#17104f"/>
<path d="M441,300 Q443,293 450,294.5 L497,305 Q511,309 512,322 L514,358 Q512,370 501,370 L456,368 Q440,364 439,350 Z" fill="#7424b0" filter="url(#blur4)"/>
<path d="M446,298.5 L498,309.5 L508,348 L445,334 Z" fill="none" stroke="#c23cc4" stroke-width="8" stroke-linejoin="round" filter="url(#blur3)"/>
<path d="M441,338 L500,350 L513,358 L513,372 L452,370 L438,358 Z" fill="url(#purpG)" filter="url(#blur2)"/>
<path d="M446,298.5 L498,309.5 L508,348 L445,334 Z" fill="#f27c20" stroke="#f27c20" stroke-width="5" stroke-linejoin="round" filter="url(#blur2)"/>
<path d="M449.5,302 L495,311.5 L503,344.5 L448.5,331.5 Z" fill="#ffae2a" stroke="#ffae2a" stroke-width="2.5" stroke-linejoin="round" filter="url(#blur2)"/>
<ellipse cx="476" cy="323.5" rx="25" ry="15" fill="#ffd65a" transform="rotate(14 476 323.5)" filter="url(#blur3)"/>
<ellipse cx="481" cy="328" rx="11" ry="9" fill="#fff0a8" transform="rotate(15 481 328)" filter="url(#blur2)"/>
<ellipse cx="482.5" cy="331" rx="3.2" ry="10" fill="#f4f8ff" transform="rotate(20 482.5 331)" filter="url(#blur1)"/>
<g stroke="#2a1c10" stroke-width="1.2" fill="none">
<line x1="475.5" y1="305" x2="465" y2="330"/><line x1="460.6" y1="313" x2="481" y2="323.5"/><ellipse cx="471" cy="317.8" rx="3" ry="2.5" fill="#f4aa2a" transform="rotate(20 471 317.8)"/>
</g>
<text transform="translate(438.5,351.5) rotate(23)" font-size="16" font-weight="bold" fill="#fff" stroke="#fff" stroke-width="0.35">242°C</text>
</g>

<!-- TEMP -->
<g mask="url(#mTemp)">
<rect x="550" y="325" width="110" height="90" fill="#fff"/>
<path d="M556,330 L556,402 L650,402" fill="none" stroke="#999" stroke-width="0.6"/>
<path d="M572,395 L598,357.5 L637.5,341" fill="none" stroke="#f02020" stroke-width="1"/>
<g fill="#000"><circle cx="572" cy="395" r="1"/><circle cx="585" cy="377" r="1"/><circle cx="598" cy="357.5" r="1"/><circle cx="611" cy="353" r="1"/><circle cx="624.5" cy="347.5" r="1"/></g>
<text x="581" y="386.5" font-size="4.6" font-weight="bold" fill="#000">S<tspan font-size="3" dy="0.8">1</tspan><tspan dy="-0.8">=0.95 °C</tspan><tspan font-size="3" dy="-1.6">-1</tspan></text>
<text x="612" y="337.5" font-size="4.6" font-weight="bold" fill="#000">S<tspan font-size="3" dy="0.8">2</tspan><tspan dy="-0.8">=0.24 °C</tspan><tspan font-size="3" dy="-1.6">-1</tspan></text>
</g>

<!-- HUMAN -->
<g mask="url(#mHuman)">
<rect x="670" y="290" width="130" height="120" fill="#f4dddc"/>
<!-- finger -->
<g clip-path="url(#cpFinger)" filter="url(#blur05)">
<rect x="688" y="300" width="46" height="36" fill="#ece6e2"/>
<path d="M688,316 L702,311 L716,313 L726,320 L730,336 L688,336 Z" fill="#d9b38b"/>
<path d="M696,326 L716,303 L724,306 L708,330 Z" fill="#e0b992"/>
<path d="M692,322 L712,318 L716,324 L700,332 Z" fill="#cfa47c"/>
<path d="M707,312 L713,305.5 L720,311 L714,318 Z" fill="#2b2b2f"/>
<path d="M719,309 L725,311 L724,318 L719,316 Z" fill="#d23a3a"/>
</g>
<!-- fist -->
<g clip-path="url(#cpFist)" filter="url(#blur05)">
<rect x="735" y="300" width="50" height="44" fill="#f3eeea"/>
<path d="M746,312 Q752,304 764,305 Q780,305 782,314 Q783,324 772,328 Q758,332 748,327 Z" fill="#e6c3a0"/>
<path d="M764,305 Q780,305 782,314 Q783,320 776,324 Q778,314 770,309 Z" fill="#efd2b4"/>
<path d="M770,312 Q776,315 774,322" stroke="#c89a78" stroke-width="0.8" fill="none"/>
<rect x="739.5" y="313" width="8.5" height="13" rx="2" fill="#5a4428"/>
<rect x="741" y="317" width="5.5" height="5" fill="#c9a566"/>
<path d="M741,306 L750,303 L752,307 L743,311 Z" fill="#2e9a62"/>
<path d="M749,303 L754,302 L755,305 L751,306 Z" fill="#d43c3c"/>
<path d="M746,326 L748,339 M749.5,326 L752,338" stroke="#d22c2c" stroke-width="1.3" fill="none"/>
</g>
<!-- blink -->
<g clip-path="url(#cpBlink)" filter="url(#blur05)">
<rect x="672" y="335" width="44" height="28" fill="#d9b596"/>
<rect x="672" y="335" width="44" height="7" fill="#c9a282"/>
<rect x="685" y="342.5" width="21" height="11.5" fill="#3a424d"/>
<rect x="688" y="344" width="15" height="4" fill="#4d5866"/>
<rect x="685" y="342.5" width="2.5" height="13" fill="#d8dade"/><rect x="703.5" y="342.5" width="2.5" height="13" fill="#d8dade"/>
<rect x="683" y="354.5" width="5.5" height="7" rx="1" fill="#e2343e"/><rect x="702.5" y="354.5" width="5.5" height="7" rx="1" fill="#22b07a"/>
</g>
<!-- arm -->
<g clip-path="url(#cpArm)" filter="url(#blur05)">
<rect x="748" y="343" width="48" height="34" fill="#f1f4f7"/>
<rect x="750" y="348.5" width="36" height="3" fill="#b4d6f2"/>
<rect x="751" y="351.5" width="32" height="2" fill="#2a3c74"/>
<path d="M751,367 L780,354 Q783,349 789,350 Q794,352 792,358 Q788,361 783,360 L756,374 L750,374 Z" fill="#dcb68c"/>
<path d="M751,362 q2,-3 4,0 q1,3 -2,4" stroke="#2ea86a" stroke-width="1" fill="none"/>
</g>
<!-- speak -->
<g clip-path="url(#cpSpeak)" filter="url(#blur05)">
<rect x="684" y="362" width="42" height="30" fill="#c9a788"/>
<path d="M716,362 L726,362 L726,392 L719,392 Q722,378 716,362 Z" fill="#15120f"/>
<path d="M686,376 Q700,382 716,378 L718,392 L684,392 Z" fill="#bd9878"/>
<rect x="698" y="381.5" width="11" height="6.5" fill="#2b3038"/>
<rect x="697" y="381" width="1.8" height="8" fill="#dcdcdc"/><rect x="708.5" y="381" width="1.8" height="8" fill="#dcdcdc"/>
<rect x="696" y="388" width="3" height="3" fill="#20a870"/><rect x="707.5" y="388.5" width="3" height="2.5" fill="#d43a3a"/>
</g>
<!-- smile -->
<g clip-path="url(#cpSmile)" filter="url(#blur05)">
<rect x="722" y="377" width="44" height="26" fill="#cfad90"/>
<path d="M722,392 Q740,398 764,392 L764,403 L722,403 Z" fill="#c09a7c"/>
<rect x="745" y="383.5" width="16" height="9.5" fill="#3b495b"/>
<rect x="756.5" y="383" width="2.2" height="11" fill="#dcdfe2"/><rect x="743.5" y="385" width="2" height="8" fill="#dcdfe2"/>
<path d="M726,389 L733,391 L732,396 L726,394 Z" fill="#d4364a"/>
<rect x="742.5" y="391.5" width="3.5" height="8" rx="1" fill="#22a87c"/>
</g>
<g fill="#b9d5ee">
<rect x="706" y="327.5" width="23" height="9.5"/><rect x="763" y="330.5" width="15.5" height="9"/>
<rect x="676" y="335.5" width="21.5" height="8.5"/><rect x="771" y="370.5" width="24" height="8.5"/>
<rect x="682" y="365.5" width="24" height="9.2"/><rect x="724" y="379" width="23" height="10"/>
</g>
<g font-size="9" font-weight="bold" fill="#000" stroke="#000" stroke-width="0.15">
<text x="707" y="335.5">Blend</text><text x="764" y="338">Fist</text><text x="677" y="342.8">Blink</text>
<text x="772.5" y="378">Blend</text><text x="683" y="373.3">Speak</text><text x="725.5" y="387.5">Smile</text>
</g>
</g>

<!-- ROLL body -->
<path d="M23.7,136 C24,132.8 23.9,123 25.6,117 C27.3,111 30.7,105 34,99.7 C37.3,94.5 41.2,89.4 45.5,85.5 C49.8,81.6 53.8,79.1 59.7,76.3 C65.6,73.5 72.7,71.6 81,68.5 C89.3,65.4 101.2,60.9 109.4,57.8 C117.6,54.7 121.6,53.5 130,50 C138.4,46.5 150,41 160,37 C170,33 182.6,29.2 190,26.3 C197.4,23.4 199.5,21.4 204.2,19.9 C208.9,18.3 213.7,17.2 218.4,17 C223.1,16.8 227.9,17.2 232.6,18.5 C237.3,19.8 242.1,21.8 246.8,24.9 C251.5,28 257,32.8 261,36.9 C265,41 268.4,45.4 271,49.7 C273.6,54 275.4,59 276.6,62.5 C277.8,66 277.8,68.3 278,71 C278.2,73.7 278.7,74.8 278,78.4 C277.3,82 275.8,87.9 273.9,92.6 C272,97.3 270.4,101.6 266.8,106.8 C263.2,112 257.3,119.3 252.3,124 C247.3,128.7 241.7,131 236.7,134.8 C231.7,138.6 228.2,141.4 222.5,146.9 C216.8,152.4 211.4,160.1 202.6,168 C193.8,175.9 177.9,187.6 169.6,194.5 C161.3,201.4 155.8,206.9 153,209.4 L95,155 Z" fill="url(#bodyG)"/>
<g clip-path="url(#bodyClip)"><g filter="url(#blur1)">
<path d="M34,85.8L223.2,12.7L225.8,12.8L37.4,85Z" fill="#505050" stroke="#505050" stroke-width="0.8"/>
<path d="M37.4,85L225.8,12.8L228.3,12.9L40.7,84Z" fill="#4e4e4e" stroke="#4e4e4e" stroke-width="0.8"/>
<path d="M40.7,84L228.3,12.9L230.9,13.1L44,83.1Z" fill="#4a4a4a" stroke="#4a4a4a" stroke-width="0.8"/>
<path d="M44,83.1L230.9,13.1L233.5,13.2L47.3,82.2Z" fill="#484848" stroke="#484848" stroke-width="0.8"/>
<path d="M47.3,82.2L233.5,13.2L236.1,13.4L50.7,81.4Z" fill="#464646" stroke="#464646" stroke-width="0.8"/>
<path d="M50.7,81.4L236.1,13.4L238.6,13.7L54.1,80.7Z" fill="#444444" stroke="#444444" stroke-width="0.8"/>
<path d="M54.1,80.7L238.6,13.7L241.2,14L57.5,80.3Z" fill="#424242" stroke="#424242" stroke-width="0.8"/>
<path d="M57.5,80.3L241.2,14L243.5,14.5L61,80.2Z" fill="#414141" stroke="#414141" stroke-width="0.8"/>
<path d="M61,80.2L243.5,14.5L245.9,15.1L64.4,80.4Z" fill="#404040" stroke="#404040" stroke-width="0.8"/>
<path d="M64.4,80.4L245.9,15.1L248.4,15.9L67.8,81Z" fill="#404040" stroke="#404040" stroke-width="0.8"/>
<path d="M67.8,81L248.4,15.9L250.7,16.8L71.2,81.8Z" fill="#3f3f3f" stroke="#3f3f3f" stroke-width="0.8"/>
<path d="M71.2,81.8L250.7,16.8L253.1,17.9L74.5,82.9Z" fill="#3f3f3f" stroke="#3f3f3f" stroke-width="0.8"/>
<path d="M74.5,82.9L253.1,17.9L255.3,19.1L77.8,84.1Z" fill="#3e3e3e" stroke="#3e3e3e" stroke-width="0.8"/>
<path d="M77.8,84.1L255.3,19.1L257.5,20.4L81,85.6Z" fill="#3e3e3e" stroke="#3e3e3e" stroke-width="0.8"/>
<path d="M81,85.6L257.5,20.4L259.6,21.7L84.2,87.1Z" fill="#3d3d3d" stroke="#3d3d3d" stroke-width="0.8"/>
<path d="M84.2,87.1L259.6,21.7L261.7,23.2L87.3,88.8Z" fill="#3c3c3c" stroke="#3c3c3c" stroke-width="0.8"/>
<path d="M87.3,88.8L261.7,23.2L263.7,24.8L90.4,90.5Z" fill="#3c3c3c" stroke="#3c3c3c" stroke-width="0.8"/>
<path d="M90.4,90.5L263.7,24.8L265.6,26.4L93.4,92.4Z" fill="#3b3b3b" stroke="#3b3b3b" stroke-width="0.8"/>
<path d="M93.4,92.4L265.6,26.4L267.5,28.1L96.3,94.4Z" fill="#3b3b3b" stroke="#3b3b3b" stroke-width="0.8"/>
<path d="M96.3,94.4L267.5,28.1L269.3,29.8L99.2,96.5Z" fill="#3a3a3a" stroke="#3a3a3a" stroke-width="0.8"/>
<path d="M99.2,96.5L269.3,29.8L271.1,31.5L102,98.7Z" fill="#393939" stroke="#393939" stroke-width="0.8"/>
<path d="M102,98.7L271.1,31.5L272.7,33.1L104.7,101.1Z" fill="#383838" stroke="#383838" stroke-width="0.8"/>
<path d="M104.7,101.1L272.7,33.1L274.4,35L107.4,103.5Z" fill="#383838" stroke="#383838" stroke-width="0.8"/>
<path d="M107.4,103.5L274.4,35L276,36.9L109.9,106.1Z" fill="#373737" stroke="#373737" stroke-width="0.8"/>
<path d="M109.9,106.1L276,36.9L277.6,38.8L112.3,108.8Z" fill="#363636" stroke="#363636" stroke-width="0.8"/>
<path d="M112.3,108.8L277.6,38.8L279.1,40.8L114.6,111.6Z" fill="#353535" stroke="#353535" stroke-width="0.8"/>
<path d="M114.6,111.6L279.1,40.8L280.5,42.9L116.8,114.5Z" fill="#353535" stroke="#353535" stroke-width="0.8"/>
<path d="M116.8,114.5L280.5,42.9L281.9,45L118.9,117.5Z" fill="#343434" stroke="#343434" stroke-width="0.8"/>
<path d="M118.9,117.5L281.9,45L283.1,47.1L120.9,120.5Z" fill="#333333" stroke="#333333" stroke-width="0.8"/>
<path d="M120.9,120.5L283.1,47.1L284.3,49.3L122.9,123.7Z" fill="#323232" stroke="#323232" stroke-width="0.8"/>
<path d="M122.9,123.7L284.3,49.3L285.4,51.5L124.7,126.8Z" fill="#313131" stroke="#313131" stroke-width="0.8"/>
<path d="M124.7,126.8L285.4,51.5L286.4,53.8L126.5,130Z" fill="#303030" stroke="#303030" stroke-width="0.8"/>
<path d="M126.5,130L286.4,53.8L287.3,56.1L128.1,133.3Z" fill="#2e2e2e" stroke="#2e2e2e" stroke-width="0.8"/>
<path d="M128.1,133.3L287.3,56.1L288,58.5L129.7,136.6Z" fill="#2d2d2d" stroke="#2d2d2d" stroke-width="0.8"/>
<path d="M129.7,136.6L288,58.5L288.5,60.9L131.1,140Z" fill="#2c2c2c" stroke="#2c2c2c" stroke-width="0.8"/>
<path d="M131.1,140L288.5,60.9L288.8,63.1L132.5,143.5Z" fill="#2a2a2a" stroke="#2a2a2a" stroke-width="0.8"/>
<path d="M132.5,143.5L288.8,63.1L288.8,65.6L133.8,147Z" fill="#292929" stroke="#292929" stroke-width="0.8"/>
<path d="M133.8,147L288.8,65.6L288.7,68L135,150.5Z" fill="#272727" stroke="#272727" stroke-width="0.8"/>
<path d="M135,150.5L288.7,68L288.4,70.5L136.1,154.1Z" fill="#262626" stroke="#262626" stroke-width="0.8"/>
<path d="M136.1,154.1L288.4,70.5L287.9,72.9L137.2,157.7Z" fill="#242424" stroke="#242424" stroke-width="0.8"/>
<path d="M137.2,157.7L287.9,72.9L287.4,75.3L138.2,161.3Z" fill="#212121" stroke="#212121" stroke-width="0.8"/>
<path d="M138.2,161.3L287.4,75.3L286.7,77.7L139.1,165Z" fill="#1f1f1f" stroke="#1f1f1f" stroke-width="0.8"/>
<path d="M139.1,165L286.7,77.7L286,80.1L139.9,168.7Z" fill="#1c1c1c" stroke="#1c1c1c" stroke-width="0.8"/>
<path d="M139.9,168.7L286,80.1L285.2,82.4L140.6,172.4Z" fill="#191919" stroke="#191919" stroke-width="0.8"/>
<path d="M140.6,172.4L285.2,82.4L284.4,84.7L141.1,176.1Z" fill="#171717" stroke="#171717" stroke-width="0.8"/>
<path d="M141.1,176.1L284.4,84.7L283.4,87L141.4,179.9Z" fill="#141414" stroke="#141414" stroke-width="0.8"/>
<path d="M141.4,179.9L283.4,87L282.3,89.3L141.6,183.6Z" fill="#121212" stroke="#121212" stroke-width="0.8"/>
<path d="M141.6,183.6L282.3,89.3L281.2,91.4L141.7,187.4Z" fill="#101010" stroke="#101010" stroke-width="0.8"/>
<path d="M141.7,187.4L281.2,91.4L279.9,93.6L141.6,191.1Z" fill="#0f0f0f" stroke="#0f0f0f" stroke-width="0.8"/>
<path d="M141.6,191.1L279.9,93.6L278.6,95.7L141.4,194.8Z" fill="#0d0d0d" stroke="#0d0d0d" stroke-width="0.8"/>
<path d="M141.4,194.8L278.6,95.7L277.3,97.6L141,198.5Z" fill="#0c0c0c" stroke="#0c0c0c" stroke-width="0.8"/>
<path d="M141,198.5L277.3,97.6L276.2,99.4L140.4,202.2Z" fill="#0a0a0a" stroke="#0a0a0a" stroke-width="0.8"/>
<path d="M140.4,202.2L276.2,99.4L275.6,100L139.8,205.9Z" fill="#141414" stroke="#141414" stroke-width="0.8"/>
<path d="M139.8,205.9L275.6,100L275,100.7L139.1,209.5Z" fill="#202020" stroke="#202020" stroke-width="0.8"/>
<path d="M139.1,209.5L275,100.7L274.3,101.5L138.2,213Z" fill="#2b2b2b" stroke="#2b2b2b" stroke-width="0.8"/>
<path d="M138.2,213L274.3,101.5L273.6,102.2L137.3,216.6Z" fill="#3d3d3d" stroke="#3d3d3d" stroke-width="0.8"/>
<path d="M137.3,216.6L273.6,102.2L273,102.8L136.1,220Z" fill="#4f4f4f" stroke="#4f4f4f" stroke-width="0.8"/>
<path d="M136.1,220L273,102.8L272.4,103.5L134.5,223.1Z" fill="#5a5a5a" stroke="#5a5a5a" stroke-width="0.8"/>
<path d="M134.5,223.1L272.4,103.5L271.6,104.4L132.5,226Z" fill="#5f5f5f" stroke="#5f5f5f" stroke-width="0.8"/>
<path d="M132.5,226L271.6,104.4L271,105.1L130.5,228.8Z" fill="#646464" stroke="#646464" stroke-width="0.8"/>
</g></g>
<!-- ROLL face -->
<path d="M158.58,125.59 A69.6 83 -25 1 0 32.42,184.41 A69.6 83 -25 1 0 158.58,125.59 Z" fill="url(#edgeG1)"/>
<g clip-path="url(#gapc0)"><use href="#pie"/><path d="M156.16,128.45 A66.6 79.5 -25 1 0 35.44,184.75 A66.6 79.5 -25 1 0 156.16,128.45 Z" fill="none" stroke="url(#shadowG)" stroke-width="10" filter="url(#blur2)"/></g>
<path d="M141.49,126.89 A53.5 62.6 -25 1 0 44.51,172.11 A53.5 62.6 -25 1 0 141.49,126.89 Z" fill="#4c4c4c" clip-path="url(#band1)"/>
<path d="M142.99,134.39 A53.5 62.6 -25 1 0 46.01,179.61 A53.5 62.6 -25 1 0 142.99,134.39 Z" fill="url(#edgeG)"/>
<g clip-path="url(#gapc1)"><use href="#pie"/><path d="M140.57,137.26 A50.5 59.1 -25 1 0 49.03,179.94 A50.5 59.1 -25 1 0 140.57,137.26 Z" fill="none" stroke="url(#shadowG)" stroke-width="10" filter="url(#blur2)"/></g>
<path d="M125.59,133.65 A37.5 45.5 -25 1 0 57.61,165.35 A37.5 45.5 -25 1 0 125.59,133.65 Z" fill="#4c4c4c" clip-path="url(#band2)"/>
<path d="M126.79,139.15 A37.5 45.5 -25 1 0 58.81,170.85 A37.5 45.5 -25 1 0 126.79,139.15 Z" fill="url(#edgeG)"/>
<g clip-path="url(#gapc2)"><use href="#pie"/><path d="M124.37,142.02 A34.5 42 -25 1 0 61.83,171.18 A34.5 42 -25 1 0 124.37,142.02 Z" fill="none" stroke="url(#shadowG)" stroke-width="10" filter="url(#blur2)"/></g>
<path d="M160.1,195.3 L158.1,199.9 L155.7,204.3 L153.1,208.5 L150.2,212.4 L147,216 L143.5,219.3 L139.8,222.3 L135.9,225 L131.8,227.4 L127.6,229.4 L123.1,231 L118.6,232.2" stroke="#686868" stroke-width="4.5" fill="none" stroke-linecap="round" filter="url(#blur05)"/>
<g clip-path="url(#dclip)">
<path d="M127.19,140.32 A30 35 -25 1 0 72.81,165.68 A30 35 -25 1 0 127.19,140.32 Z" fill="#6c6c6c"/>
<path d="M125.96,141.68 A28.2 33.2 -25 1 0 74.84,165.52 A28.2 33.2 -25 1 0 125.96,141.68 Z" fill="url(#dG)"/>
</g>
<path d="M69,147 L115,122.5" stroke="#6a6a6a" stroke-width="1.6" fill="none"/>

<!-- labels -->
<g fill="#fff" font-weight="bold" stroke="#fff" stroke-width="0.25" filter="url(#tsh)">
<text transform="translate(155,102) rotate(-28)" font-size="22">Roll-to-Roll</text>
<text transform="translate(169.5,125.5) rotate(-28)" font-size="22">Fabrication</text>
<text x="251" y="149" font-size="18.5">Strain</text>
<text x="354" y="190.7" font-size="18.5">Stress</text>
<text transform="translate(449.5,252.3) rotate(34.5)" font-size="18.5" font-style="italic">Joule Heating</text>
<text transform="translate(555,329.5) rotate(-2.5)" font-size="18.2">Temperature</text>
<path id="hm" d="M680,302.5 Q741,279.5 812,304" fill="none" stroke="none"/>
<text font-size="18" xml:space="preserve"><textPath href="#hm">Human  motions</textPath></text>
</g>

<path id="tp" d="M143,257.5 C150.8,258.8 173.8,261.9 190,265 C206.2,268.1 225,271.7 240,276 C255,280.3 267.3,284.7 280,291 C292.7,297.3 304.3,305.7 316,314 C327.7,322.3 338.5,330.6 350,341 C361.5,351.4 373.3,366.2 385,376.5 C396.7,386.8 409.2,395.5 420,403 C430.8,410.5 439.2,415.7 450,421.5 C460.8,427.3 473.3,433.3 485,438 C496.7,442.7 509.2,446.8 520,449.5 C530.8,452.2 540.8,453.4 550,454.5 C559.2,455.6 568.2,456 575,456 C581.8,456 583.5,455.8 591,454.5 C598.5,453.2 610.5,450.2 620,448 C629.5,445.8 641,443.1 648,441.3 C655,439.6 655,438.8 662,437.5 C669,436.2 679.5,434.8 690,433.5 C700.5,432.2 713.3,430.8 725,429.7 C736.7,428.6 754.2,427.4 760,427" fill="none"/>
<text font-size="25" font-weight="bold" font-style="italic" fill="#fa0202" stroke="#fa0202" stroke-width="0.55" xml:space="preserve"><textPath href="#tp" startOffset="2">Flexible, Robust, Durable <tspan dx="3" letter-spacing="1">Aramid/</tspan>CNTs Paper-Based  <tspan dx="-4">Sensor</tspan></textPath></text>
</svg>
</body></html>
